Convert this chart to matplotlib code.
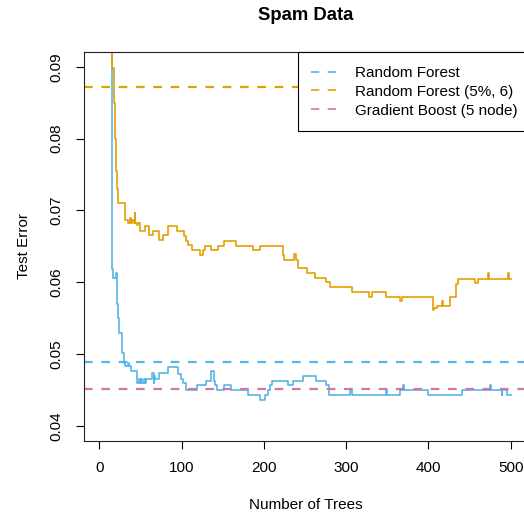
import matplotlib
matplotlib.use("Agg")
import matplotlib.pyplot as plt

plt.rcParams['font.family'] = ['Liberation Sans', 'DejaVu Sans']

# Random Forest test error (blue)
rf_trees = [14, 15, 16, 17, 18, 20, 21, 22, 23, 24, 26, 28, 30, 31, 35, 36, 39,
            46, 48, 49, 51, 52, 54, 56, 57, 60, 64, 66, 67, 68, 72, 83, 96, 99,
            102, 105, 119, 130, 136, 139, 141, 143, 151, 160, 181, 195, 202, 205,
            208, 210, 229, 235, 247, 264, 275, 279, 305, 307, 348, 350, 366, 369,
            370, 399, 441, 475, 476, 489, 490, 495, 500]
rf_error = [0.12, 0.066, 0.0618, 0.0606, 0.0606, 0.0613, 0.0585, 0.057, 0.055,
            0.053, 0.0529, 0.0502, 0.0488, 0.0483, 0.0488, 0.0483, 0.0476,
            0.0460, 0.0466, 0.0460, 0.0466, 0.0460, 0.0466, 0.0460, 0.0466,
            0.0466, 0.0474, 0.0460, 0.0470, 0.0466, 0.0474, 0.0482, 0.0472,
            0.0466, 0.0460, 0.0450, 0.0457, 0.0463, 0.0476, 0.0463, 0.0457,
            0.0450, 0.0457, 0.0450, 0.0444, 0.0437, 0.0444, 0.0450, 0.0457,
            0.0463, 0.0457, 0.0463, 0.0470, 0.0463, 0.0457, 0.0444, 0.0450,
            0.0444, 0.0450, 0.0444, 0.0450, 0.0457, 0.0450, 0.0444, 0.0450,
            0.0457, 0.0450, 0.0444, 0.0450, 0.0444, 0.0444]

# Random Forest (5%, 6) test error (orange)
rf6_trees = [14, 15, 16, 17, 18, 19, 20, 21, 22, 23, 31, 35, 37, 38, 40, 42, 43,
             44, 46, 47, 49, 55, 61, 65, 72, 77, 83, 95, 103, 105, 108, 113, 123,
             126, 128, 136, 144, 152, 166, 187, 195, 223, 224, 237, 239, 242, 252,
             262, 275, 280, 307, 328, 331, 349, 365, 368, 405, 407, 410, 416, 418,
             426, 433, 434, 436, 457, 460, 472, 474, 497, 498, 500]
rf6_error = [0.12, 0.097, 0.0898, 0.0898, 0.085, 0.080, 0.0755, 0.0748, 0.073,
             0.0711, 0.0687, 0.0683, 0.0690, 0.0683, 0.0687, 0.0683, 0.0697,
             0.0683, 0.0680, 0.0683, 0.0671, 0.0678, 0.0666, 0.0671, 0.0659,
             0.0666, 0.0678, 0.0671, 0.0664, 0.0657, 0.0652, 0.0645, 0.0638,
             0.0645, 0.0651, 0.0645, 0.0651, 0.0658, 0.0651, 0.0645, 0.0651,
             0.0638, 0.0631, 0.0639, 0.0631, 0.0620, 0.0613, 0.0606, 0.0600,
             0.0593, 0.0587, 0.0580, 0.0587, 0.0580, 0.0574, 0.0580, 0.0562,
             0.0564, 0.0567, 0.0574, 0.0567, 0.0580, 0.0590, 0.0598, 0.0605,
             0.0599, 0.0605, 0.0613, 0.0605, 0.0613, 0.0605, 0.0605]

# Reference horizontal levels
rf_level = 0.0489
rf6_level = 0.0872
gb_level = 0.0451

labels = ["Random Forest", "Random Forest (5%, 6)", "Gradient Boost (5 node)"]
colors = ["#56B4E9", "#E69F00", "#CC79A7"]
x_ticks = [0, 100, 200, 300, 400, 500]
y_ticks = [0.04, 0.05, 0.06, 0.07, 0.08, 0.09]

FS = 11.0

fig = plt.figure(figsize=(5.24, 5.16), dpi=100)
ax = fig.add_axes([0.1597, 0.1463, 0.8462, 0.7523])

ax.plot(rf_trees, rf_error, color=colors[0], lw=1.2, drawstyle='steps-post')
ax.plot(rf6_trees, rf6_error, color=colors[1], lw=1.2, drawstyle='steps-post')

h = []
for lvl, c, lab in zip([rf_level, rf6_level, gb_level], colors, labels):
    ln = ax.axhline(lvl, color=c, lw=1.6, dashes=(3.9, 3.9), label=lab)
    h.append(ln)

ax.set_xlim(-18.96, 519.96)
ax.set_ylim(0.038, 0.092)
ax.set_xticks(x_ticks)
ax.set_yticks(y_ticks)
ax.set_yticklabels([f"{v:.2f}" for v in y_ticks], rotation=90, va='center')
ax.tick_params(axis='both', direction='out', length=5.5, width=0.8,
               labelsize=FS, pad=9)
for s in ax.spines.values():
    s.set_linewidth(0.8)
    s.set_color('#222222')

ax.set_xlabel("Number of Trees", fontsize=FS, labelpad=17)
ax.set_ylabel("Test Error", fontsize=FS, labelpad=13)
ax.set_title("Spam Data", fontsize=13.3, fontweight='bold', pad=23)

leg = ax.legend(handles=h, loc='upper right', bbox_to_anchor=(1.009, 1.0),
                borderaxespad=0, fontsize=FS, handlelength=1.63,
                handletextpad=1.2, labelspacing=0.31, borderpad=0.9,
                frameon=True, fancybox=False, framealpha=1,
                edgecolor='black')
leg.get_frame().set_linewidth(0.8)
for lh in leg.get_lines():
    lh.set_linewidth(1.2)
    lh.set_dashes((5.0, 5.0))

fig.savefig("out.png", dpi=100)
